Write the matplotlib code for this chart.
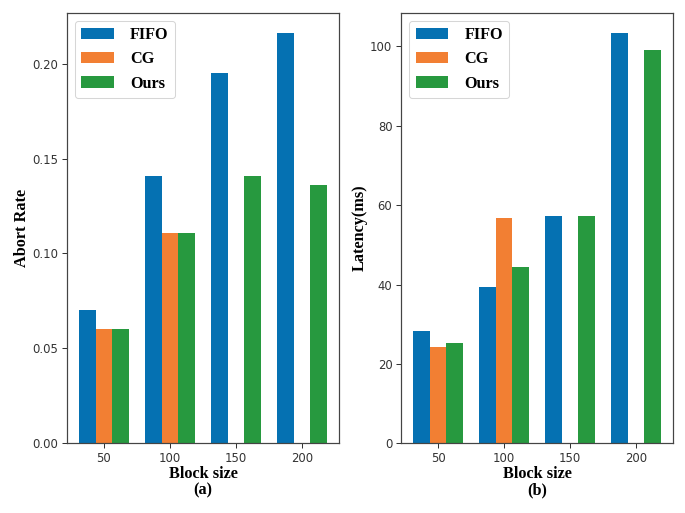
import matplotlib
matplotlib.use("Agg")
import matplotlib.pyplot as plt
import numpy as np

categories = ["50", "100", "150", "200"]
series_names = ["FIFO", "CG", "Ours"]
abort_fifo = [0.070, 0.141, 0.195, 0.216]
abort_cg = [0.060, 0.111, 0.0, 0.0]
abort_ours = [0.060, 0.111, 0.141, 0.136]
lat_fifo = [28.2, 39.4, 57.3, 103.3]
lat_cg = [24.2, 56.8, 0.0, 0.0]
lat_ours = [25.3, 44.5, 57.2, 99.1]
colors = ["#0571B2", "#F27F33", "#27993F"]

DPI = 73
fig = plt.figure(figsize=(685 / DPI, 513 / DPI), dpi=DPI)
W, H = 685, 513
ax1 = fig.add_axes([66.7 / W, 1 - 443.3 / H, (339.3 - 66.7) / W, (443.3 - 12.7) / H])
ax2 = fig.add_axes([401 / W, 1 - 443.3 / H, (673.3 - 401) / W, (443.3 - 12.7) / H])

serif = {"family": "Liberation Serif", "weight": "bold", "size": 16}
x = np.arange(len(categories))
w = 0.25

def draw(ax, data, ylabel, sub):
    for i, (vals, name) in enumerate(zip(data, series_names)):
        ax.bar(x + (i - 1) * w, vals, w, color=colors[i], label=name)
    ax.set_xticks(x)
    ax.set_xticklabels(categories)
    ax.tick_params(labelsize=11.5, length=5, width=1.0, colors="#333333")
    ax.set_xlabel("Block size\n" + sub, fontdict=serif, labelpad=1, linespacing=1.0)
    ax.set_ylabel(ylabel, fontdict=serif, labelpad=2.5)
    ax.legend(loc="upper left", handletextpad=1.0,
              prop={"family": "Liberation Serif", "weight": "bold", "size": 16})
    for s in ax.spines.values():
        s.set_color("#444444")
        s.set_linewidth(1.2)

draw(ax1, [abort_fifo, abort_cg, abort_ours], "Abort Rate", "(a)")
draw(ax2, [lat_fifo, lat_cg, lat_ours], "Latency(ms)", "(b)")
ax1.set_yticks([0.0, 0.05, 0.10, 0.15, 0.20])
ax1.set_yticklabels(["0.00", "0.05", "0.10", "0.15", "0.20"])
ax2.set_yticks([0, 20, 40, 60, 80, 100])

fig.savefig("out.png", dpi=DPI)
